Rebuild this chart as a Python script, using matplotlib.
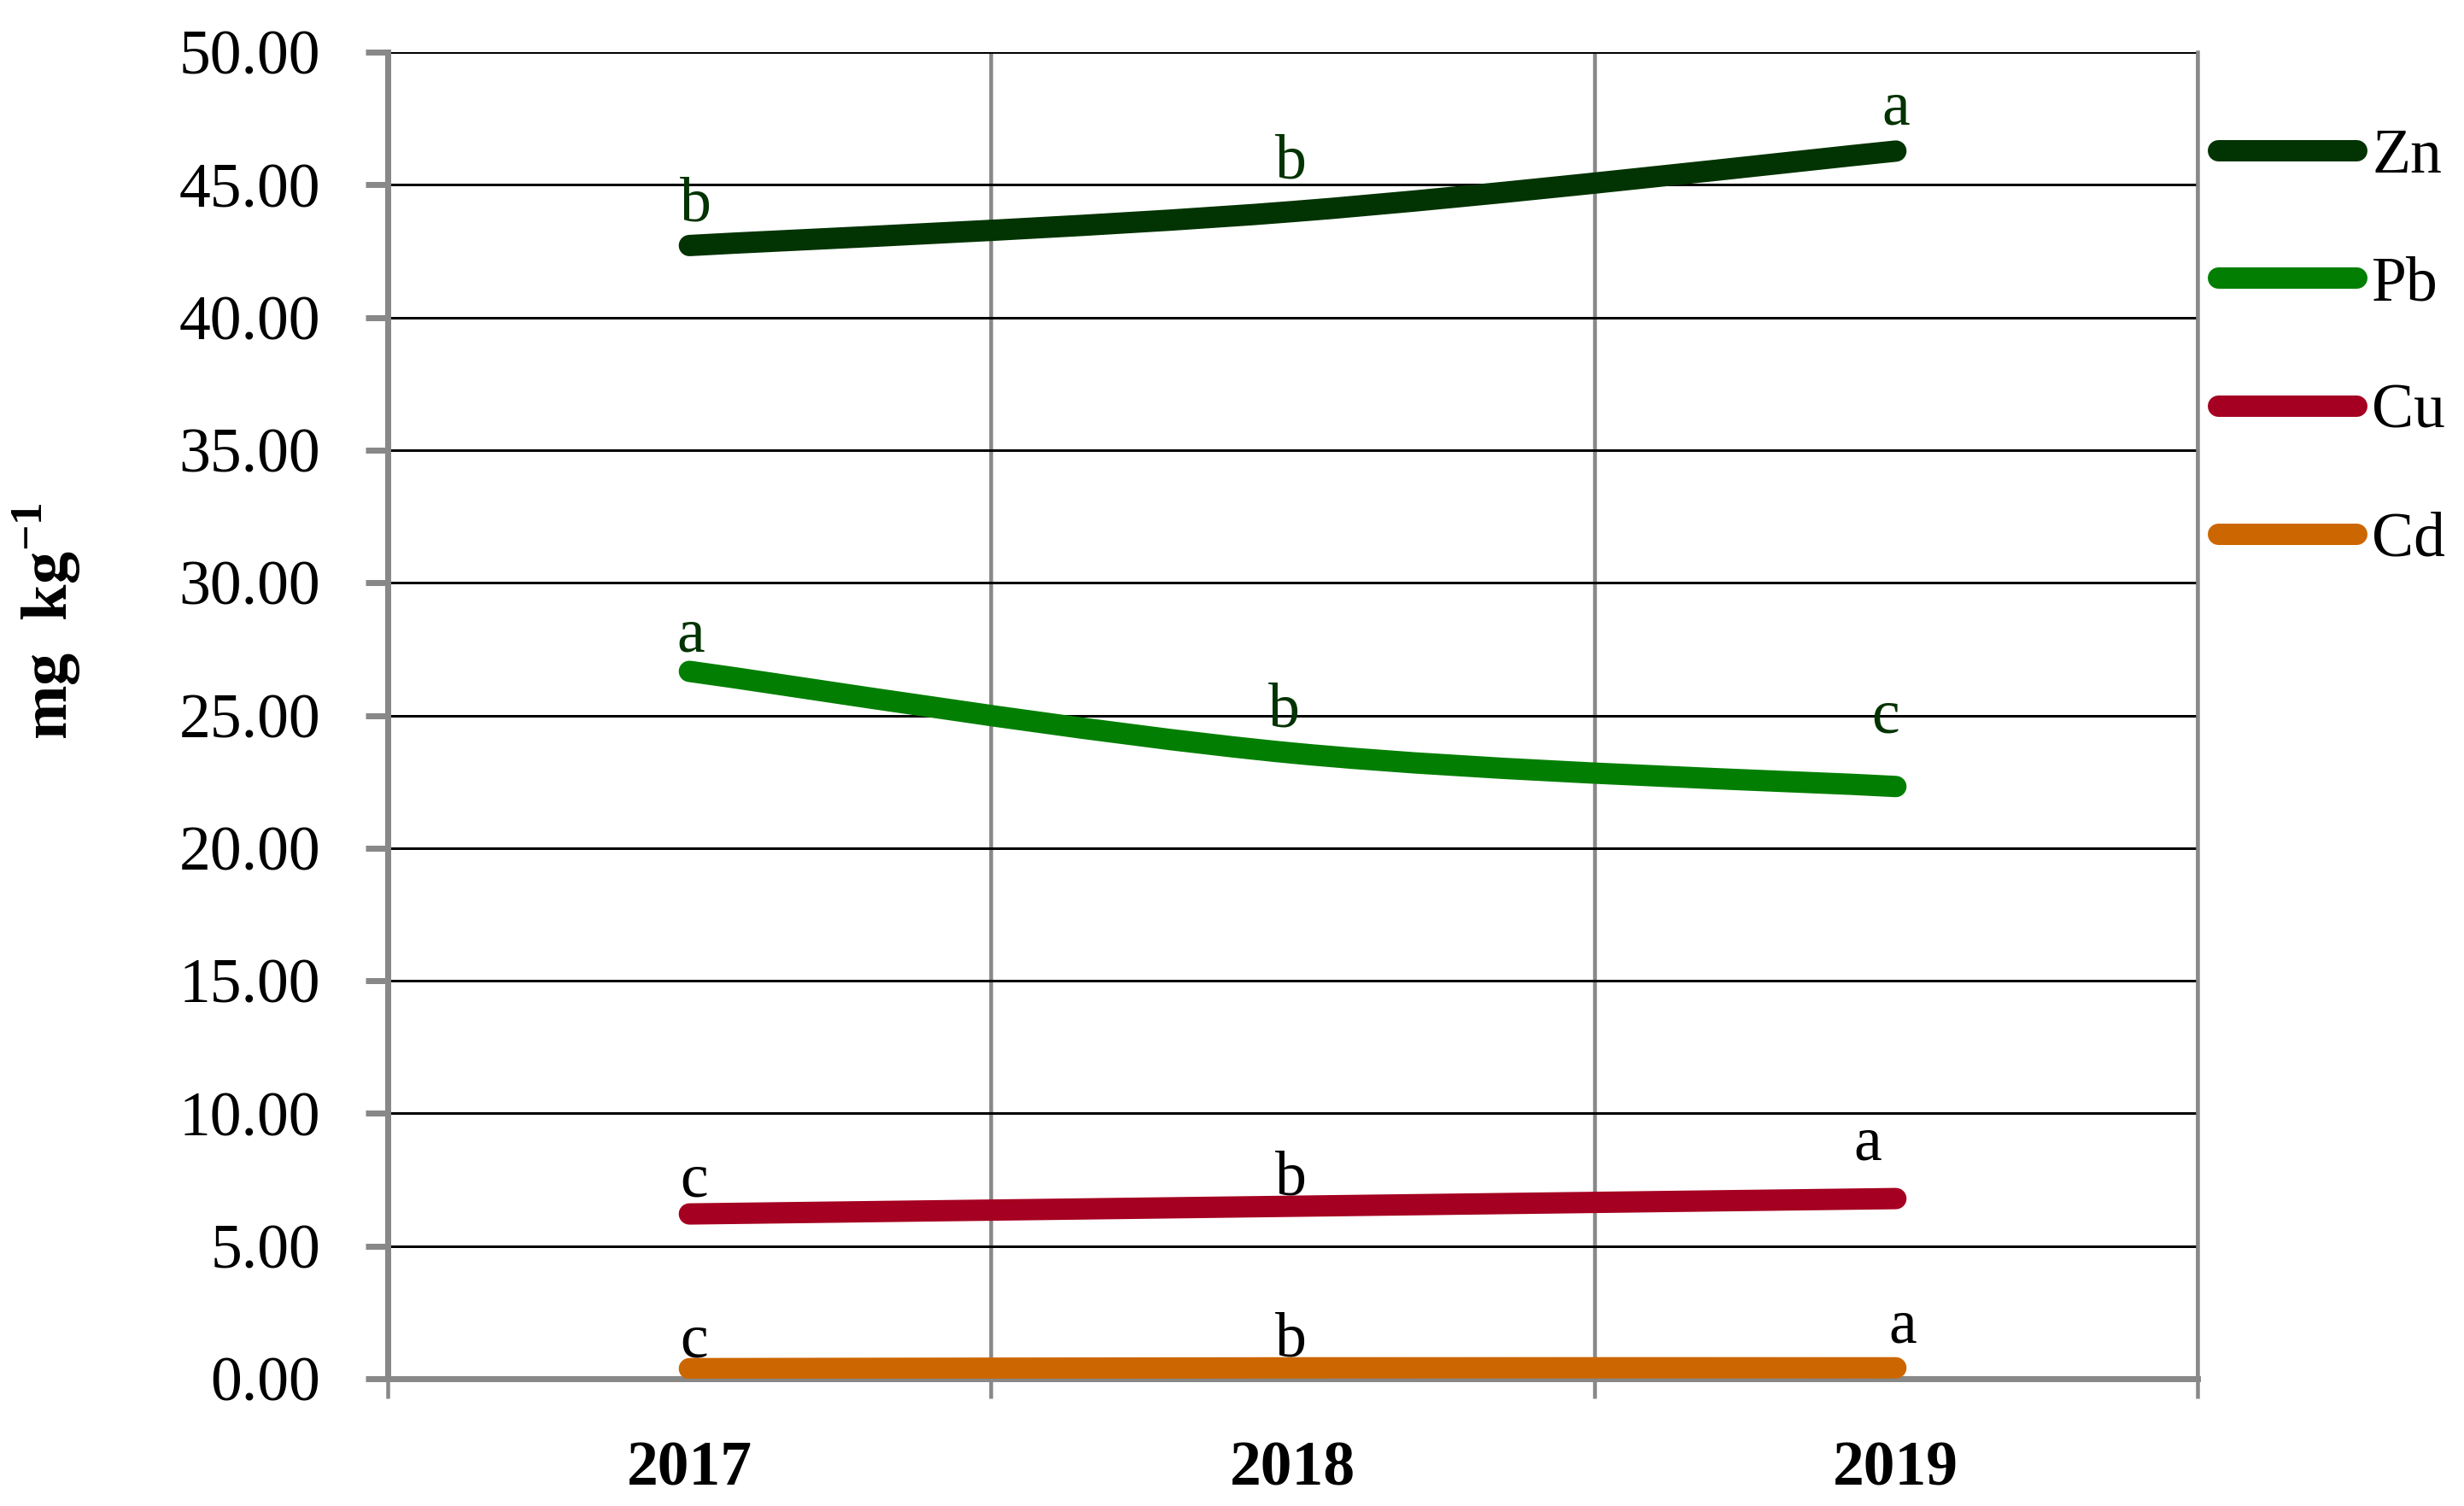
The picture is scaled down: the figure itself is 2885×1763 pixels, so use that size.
import numpy as np
import matplotlib
matplotlib.use("Agg")
import matplotlib.pyplot as plt
from matplotlib.path import Path
from matplotlib.patches import PathPatch
from matplotlib.lines import Line2D

plt.rcParams['font.family'] = ['Liberation Serif', 'DejaVu Serif']
plt.rcParams['mathtext.fontset'] = 'custom'
plt.rcParams['mathtext.rm'] = 'Liberation Serif'
plt.rcParams['mathtext.bf'] = 'Liberation Serif:bold'

years = ["2017", "2018", "2019"]
metals = ["Zn", "Pb", "Cu", "Cd"]
zn = [42.71, 43.99, 46.27]
pb = [26.66, 23.58, 22.32]
cu = [6.21, 6.50, 6.79]
cd = [0.38, 0.41, 0.41]
zn_letters = ["b", "b", "a"]
pb_letters = ["a", "b", "c"]
cu_letters = ["c", "b", "a"]
cd_letters = ["c", "b", "a"]

series = [zn, pb, cu, cd]
letters = [zn_letters, pb_letters, cu_letters, cd_letters]
colors = ["#023302", "#027f02", "#a50021", "#cc6600"]
letter_colors = ["#023302", "#023302", "black", "black"]
# letter offsets (px): dx, baseline above the point
offsets = [
    [(7, 29), (-2, 39), (0, 31)],
    [(2, 23), (-10, 31), (-12, 63)],
    [(5, 21), (-2, 14), (-33, 46)],
    [(5, 14), (-2, 14), (8, 30)],
]

DPI = 100
px = 72 / DPI
LW = 25 * px
FS = 53
GRAY = '#888888'


def smooth_path(xs, ys):
    pts = np.column_stack([xs, ys]).astype(float)
    n = len(pts)
    verts = [pts[0]]
    codes = [Path.MOVETO]
    for i in range(n - 1):
        p0 = pts[i - 1] if i > 0 else pts[i]
        p1, p2 = pts[i], pts[i + 1]
        p3 = pts[i + 2] if i + 2 < n else pts[i + 1]
        verts += [p1 + (p2 - p0) / 6, p2 - (p3 - p1) / 6, p2]
        codes += [Path.CURVE4] * 3
    return Path(verts, codes)


fig = plt.figure(figsize=(28.85, 17.63), dpi=DPI)
ax = fig.add_axes([454 / 2885, 149 / 1763, 2119 / 2885, 1553 / 1763])

x = np.arange(len(years))
handles = []
for vals, col, name in zip(series, colors, metals):
    patch = PathPatch(smooth_path(x, vals), facecolor='none', edgecolor=col,
                      lw=LW, capstyle='round', joinstyle='round', zorder=3)
    ax.add_patch(patch)
    handles.append(Line2D([], [], color=col, lw=LW, solid_capstyle='round', label=name))

for vals, labs, offs, lc in zip(series, letters, offsets, letter_colors):
    for xi, v, lab, (dx, dy) in zip(x, vals, labs, offs):
        ax.annotate(lab, (xi, v), xytext=(dx * px, dy * px), textcoords='offset points',
                    ha='center', va='baseline', fontsize=FS, color=lc, zorder=4)

ax.set_xlim(-0.5, 2.5)
ax.set_ylim(0, 50)
ax.set_yticks(np.arange(0, 50.1, 5))
ax.set_yticklabels([f"{v:.2f}" for v in np.arange(0, 50.1, 5)], fontsize=FS)
ax.set_xticks(x)
ax.set_xticklabels(years, fontsize=FS, fontweight='bold')
ax.set_xticks([-0.5, 0.5, 1.5, 2.5], minor=True)

ax.tick_params(axis='x', which='major', length=0, pad=52)
ax.tick_params(axis='x', which='minor', length=23 * px, width=4.5 * px,
               color=GRAY, direction='out')
ax.tick_params(axis='y', length=26 * px, width=7 * px, color=GRAY, pad=38)

ax.yaxis.grid(True, color='black', lw=3 * px, zorder=1)
ax.xaxis.grid(True, which='minor', color=GRAY, lw=4.5 * px, zorder=1)
ax.set_axisbelow(True)

ax.spines['top'].set_visible(False)
ax.spines['right'].set_color(GRAY)
ax.spines['right'].set_linewidth(4.5 * px)
for s in ['left', 'bottom']:
    ax.spines[s].set_color(GRAY)
    ax.spines[s].set_linewidth(7 * px)
    ax.spines[s].set_zorder(2)

fig.text(55 / 2885, 1 - 727 / 1763, r'mg  kg$^{\mathbf{-1}}$', rotation=90,
         ha='center', va='center', fontsize=55, fontweight='bold')

fig.legend(handles=handles, loc='upper left', bbox_to_anchor=(2597 / 2885, 1 - 150 / 1763),
           frameon=False, fontsize=FS, handlelength=2.2, handletextpad=0.25,
           labelspacing=1.115, borderaxespad=0, borderpad=0)

fig.savefig("out.png", dpi=DPI)
